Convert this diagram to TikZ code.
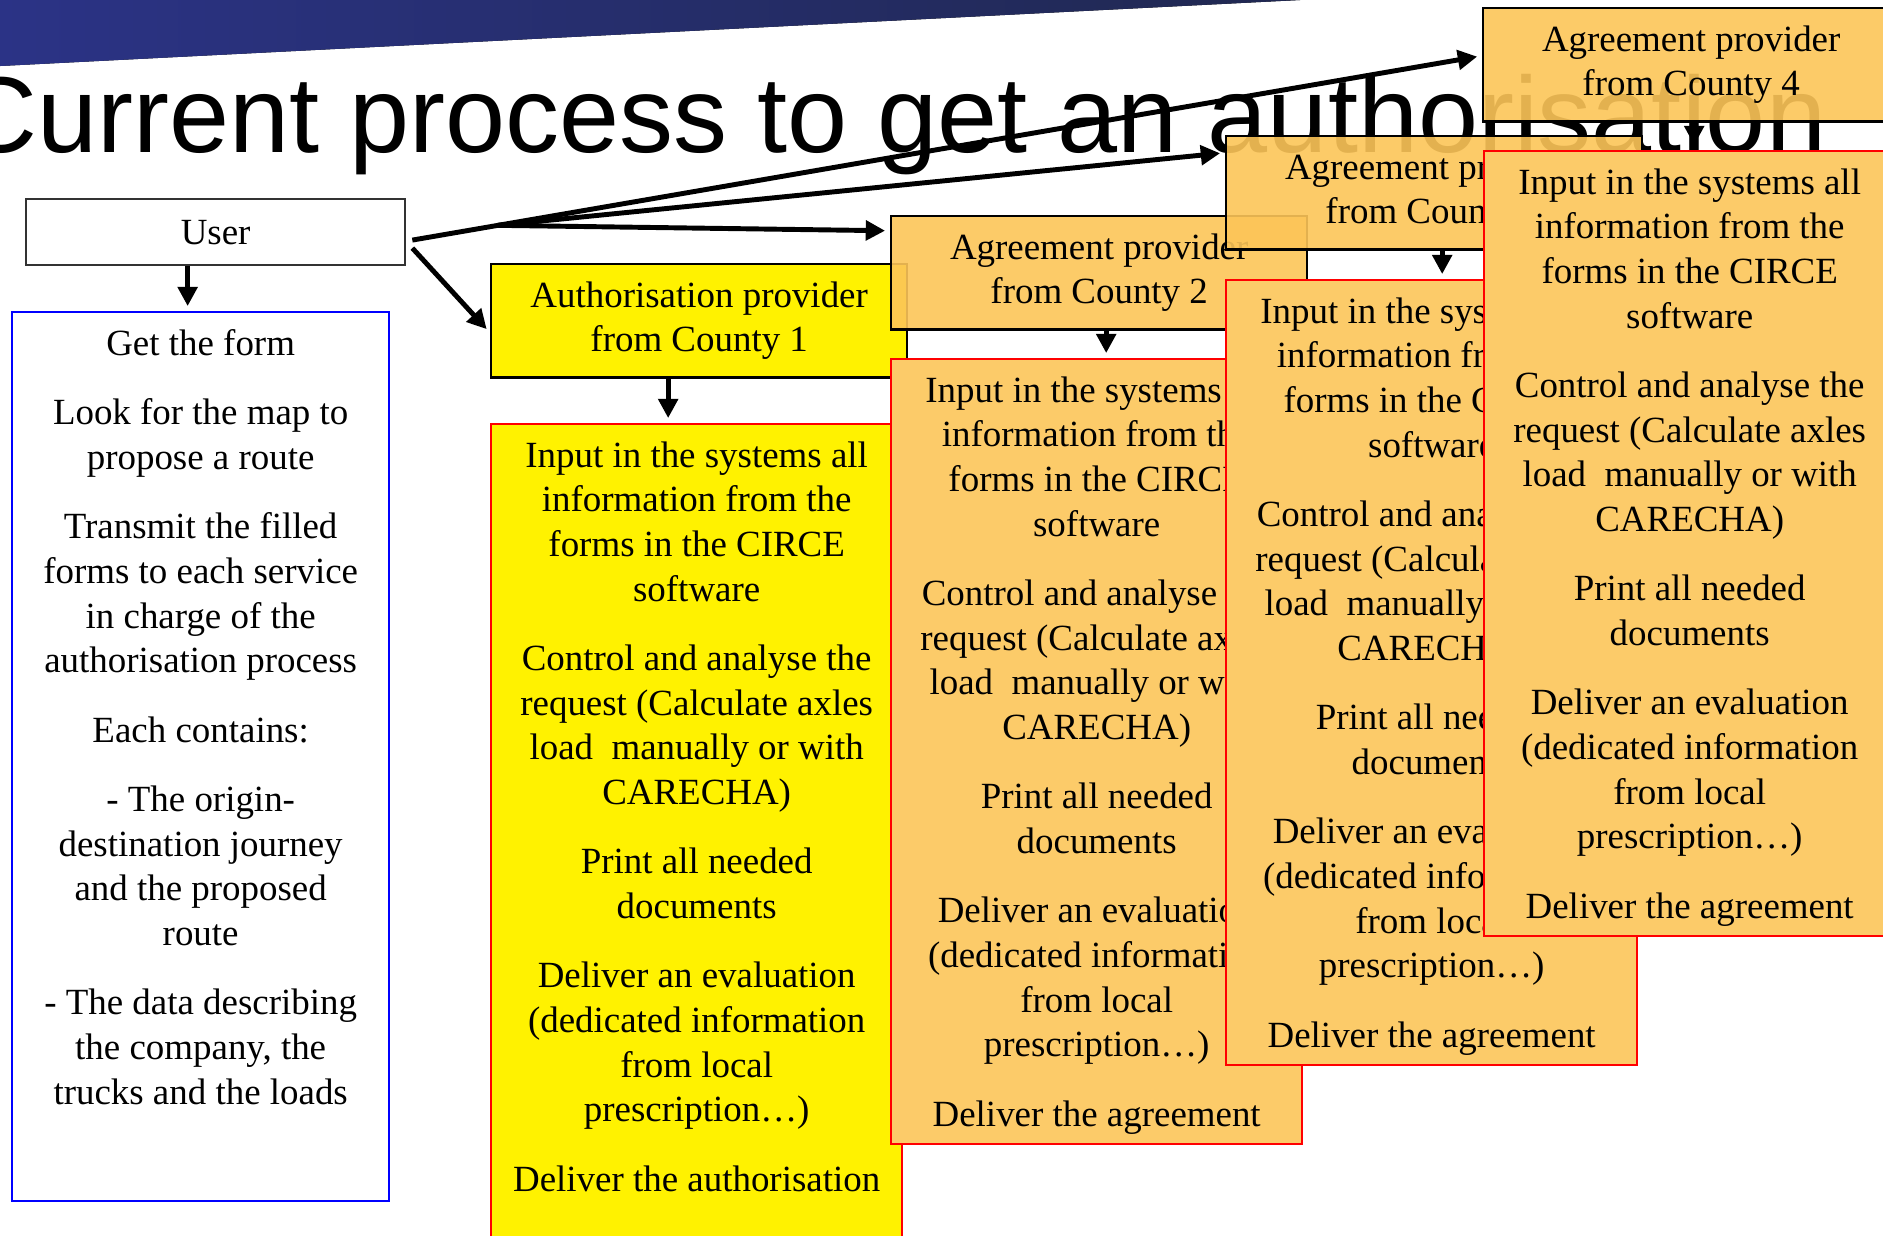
\documentclass[tikz,border=0pt]{standalone}
\usepackage{fontspec}
\setmainfont{Liberation Serif}
\newfontfamily\titlefont{Liberation Sans}
\usetikzlibrary{arrows.meta,calc}
\definecolor{bannerblue}{RGB}{43,51,134}
\definecolor{bannerdark}{RGB}{32,40,80}
\definecolor{agreeorange}{RGB}{252,197,88}
\definecolor{procorange}{RGB}{252,203,105}
\definecolor{userframe}{RGB}{50,50,50}
\newcommand{\casework}[1]{Input in the systems all\\information from the\\forms in the CIRCE\\software\\[7pt]
Control and analyse the\\request (Calculate axles\\load\ \ manually or with\\CARECHA)\\[7pt]
Print all needed\\documents\\[7pt]
Deliver an evaluation\\(dedicated information\\from local\\prescription…)\\[7pt]
#1}
\begin{document}
\begin{tikzpicture}[x=0.01cm,y=-0.01cm,
  every node/.style={font=\fontsize{10.5pt}{12.7pt}\selectfont,align=center,inner xsep=2pt,inner ysep=5pt},
  flow/.style={line width=1.4pt,shorten >=1.4pt,-{Triangle[length=5.5pt,width=5.5pt]}},
  userbox/.style={draw=userframe,line width=0.6pt,fill=white,minimum width=3.79cm,minimum height=0.66cm,anchor=north west},
  stepbox/.style={draw=blue,line width=0.6pt,fill=white,minimum width=3.77cm,anchor=north west,text depth=22.6pt},
  headbox/.style={draw=black,line width=0.6pt,minimum width=4.16cm,minimum height=1.1cm,anchor=north west},
  procbox/.style={draw=red,line width=0.6pt,minimum width=4.11cm,anchor=north west,text depth=0pt},
  authfill/.style={fill=yellow},
  agreehead/.style={fill=agreeorange,fill opacity=0.9,text opacity=1},
  agreeproc/.style={fill=procorange}]
\useasboundingbox(0,0)rectangle(1883,1235);
\clip(0,0)rectangle(1883,1235);
\fill[left color=bannerblue,right color=bannerdark](0,0)--(1300,0)--(0,66)--cycle;
\node[anchor=base east,inner sep=0pt,font=\titlefont\fontsize{30.7pt}{36pt}\selectfont](title)at(1827,152){Current process to get an authorisation};
\node[userbox](user)at(25,198){User};
\node[stepbox](steps)at(11,311){Get the form\\[7pt]
Look for the map to\\propose a route\\[7pt]
Transmit the filled\\forms to each service\\in charge of the\\authorisation process\\[7pt]
Each contains:\\[7pt]
- The origin-\\destination journey\\and the proposed\\route\\[7pt]
- The data describing\\the company, the\\trucks and the loads};
\node[headbox,authfill](head1)at(490,263){Authorisation provider\\from County 1};
\node[procbox,authfill,text depth=40pt](proc1)at(490,423){\casework{Deliver the authorisation}};
\node[headbox,agreehead](head2)at(890,215){Agreement provider\\from County 2};
\node[procbox,agreeproc](proc2)at(890,358){\casework{Deliver the agreement}};
\node[headbox,agreehead](head3)at(1225,135){Agreement provider\\from County 3};
\node[procbox,agreeproc](proc3)at(1225,279){\casework{Deliver the agreement}};
\node[headbox,agreehead](head4)at(1482,7){Agreement provider\\from County 4};
\node[procbox,agreeproc](proc4)at(1483,150){\casework{Deliver the agreement}};
\coordinate(fanstart)at([shift={(6,8)}]user.east);
\coordinate(to4)at([shift={(0,-9)}]head4.west);
\coordinate(to3)at([shift={(0,-40)}]head3.west);
\coordinate(to2)at([shift={(0,-42)}]head2.west);
\coordinate(fork)at($(fanstart)!0.08!(to4)$);
\draw[flow](fanstart)--(to4);
\draw[flow](fork)--(to3);
\draw[flow](fork)--(to2);
\draw[flow]([shift={(6,16)}]user.east)--([shift={(0,12)}]head1.west);
\draw[flow]([xshift=-0.28cm]user.south)--([xshift=-0.28cm]user.south|-steps.north);
\draw[flow]([xshift=-0.31cm]head1.south)--([xshift=-0.31cm]head1.south|-proc1.north);
\draw[flow]([xshift=0.07cm]head2.south)--([xshift=0.07cm]head2.south|-proc2.north);
\draw[flow]([xshift=0.08cm]head3.south)--([xshift=0.08cm]head3.south|-proc3.north);
\draw[flow]([xshift=0.03cm]head4.south)--([xshift=0.03cm]head4.south|-proc4.north);
\end{tikzpicture}
\end{document}
